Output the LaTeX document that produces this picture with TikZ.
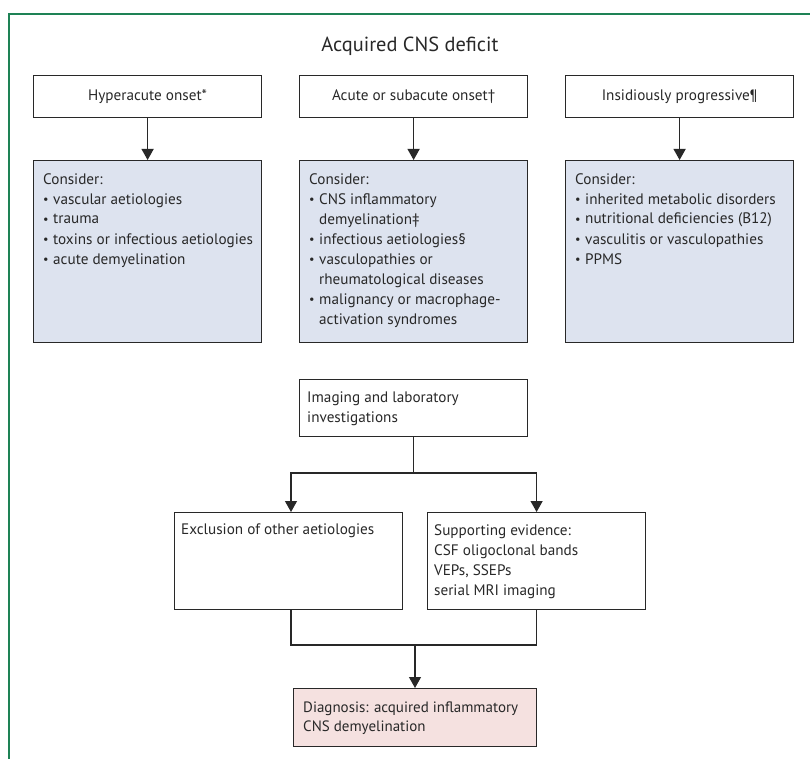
\documentclass[tikz,border=0pt]{standalone}
\usepackage{fontspec}
\setmainfont{PT Sans}
\usetikzlibrary{arrows.meta}
\definecolor{framegreen}{RGB}{30,130,85}
\definecolor{bluefill}{RGB}{221,227,239}
\definecolor{pinkfill}{RGB}{245,225,224}
\definecolor{ink}{RGB}{40,40,40}
\newcommand\bul{\makebox[10pt][l]{\raisebox{0.5pt}{\scalebox{0.8}{\textbullet}}}}
\newcommand\ind{\hspace*{10pt}}
\begin{document}
\begin{tikzpicture}[x=1pt,y=-1pt,
  box/.style={draw=ink, line width=1.2pt, rectangle, inner sep=0pt, anchor=north west,
    font=\fontsize{15.2}{20}\selectfont, text=ink},
  txt/.style={inner sep=0pt, anchor=base west, align=left, text=ink,
    font=\fontsize{15.2}{20}\selectfont},
  arr/.style={draw=ink, line width=1.2pt, -{Triangle[width=12pt,length=11pt]}},
  ln/.style={draw=ink, line width=1.2pt}]
\useasboundingbox (0,0) rectangle (810,759);
\draw[framegreen, line width=1.2pt] (9,759) -- (9,14) -- (810,14);

\node[inner sep=0pt, anchor=base, text=ink, font=\fontsize{20.4}{24}\selectfont] (title) at (410,52) {Acquired CNS deficit};

% top row
\node[box, minimum width=228pt, minimum height=42pt] (h1) at (33,75) {Hyperacute onset*};
\node[box, minimum width=228pt, minimum height=42pt] (h2) at (299,75) {Acute or subacute onset†};
\node[box, minimum width=228pt, minimum height=42pt] (h3) at (565,75) {Insidiously progressive¶};

% consider boxes
\node[box, fill=bluefill, minimum width=228pt, minimum height=182pt] (c1) at (33,160) {};
\node[box, fill=bluefill, minimum width=228pt, minimum height=182pt] (c2) at (299,160) {};
\node[box, fill=bluefill, minimum width=228pt, minimum height=182pt] (c3) at (565,160) {};

% base anchor = baseline of last line
\node[txt] (t1) at (43,264) {Consider:\\
\bul vascular aetiologies\\
\bul trauma\\
\bul toxins or infectious aetiologies\\
\bul acute demyelination};
\node[txt] (t2) at (309,324) {Consider:\\
\bul CNS inflammatory\\
\ind demyelination‡\\
\bul infectious aetiologies§\\
\bul vasculopathies or\\
\ind rheumatological diseases\\
\bul malignancy or macrophage-\\
\ind activation syndromes};
\node[txt] (t3) at (575,264) {Consider:\\
\bul inherited metabolic disorders\\
\bul nutritional deficiencies (B12)\\
\bul vasculitis or vasculopathies\\
\bul PPMS};

\draw[arr] (h1.south) -- (c1.north);
\draw[arr] (h2.south) -- (c2.north);
\draw[arr] (h3.south) -- (c3.north);

% investigations
\node[box, minimum width=228pt, minimum height=57pt] (img) at (299,379) {};
\node[txt] (timg) at (307,422) {Imaging and laboratory\\investigations};

\node[box, minimum width=228pt, minimum height=97pt] (ex) at (174,512) {};
\node[txt] (tex) at (181,534) {Exclusion of other aetiologies};
\node[box, minimum width=218pt, minimum height=97pt] (sup) at (427,512) {};
\node[txt] (tsup) at (434,595) {Supporting evidence:\\CSF oligoclonal bands\\VEPs, SSEPs\\serial MRI imaging};

\node[box, fill=pinkfill, minimum width=243pt, minimum height=58pt] (dg) at (293,688) {};
\node[txt, font=\fontsize{15}{19}\selectfont] (tdg) at (303,731) {Diagnosis: acquired inflammatory\\CNS demyelination};

\coordinate (j1) at (img.south |- 0,473);
\coordinate (exin) at (291,512);
\draw[ln] (img.south) -- (j1);
\draw[arr] (j1) -| (exin);
\draw[arr] (j1) -| (sup.north);

\coordinate (exout) at (291,609);
\coordinate (j2) at (415,645);
\draw[ln] (exout) |- (j2);
\draw[ln] (sup.south) |- (j2);
\draw[arr] (j2) -- (j2 |- dg.north);
\end{tikzpicture}
\end{document}
